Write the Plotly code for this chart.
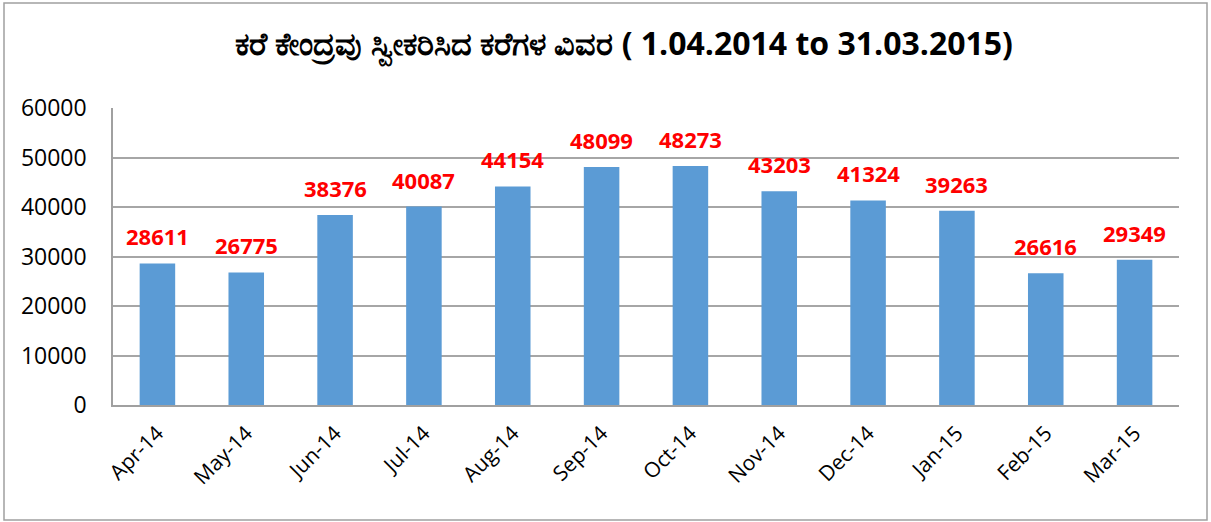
import plotly.graph_objects as go

months = ["Apr-14", "May-14", "Jun-14", "Jul-14", "Aug-14", "Sep-14",
          "Oct-14", "Nov-14", "Dec-14", "Jan-15", "Feb-15", "Mar-15"]
calls = [28611, 26775, 38376, 40087, 44154, 48099,
         48273, 43203, 41324, 39263, 26616, 29349]
y_ticks = [0, 10000, 20000, 30000, 40000, 50000, 60000]
title_text = "ಕರೆ ಕೇಂದ್ರವು ಸ್ವೀಕರಿಸಿದ ಕರೆಗಳ ವಿವರ ( 1.04.2014 to 31.03.2015)"

W, H = 1211, 522
L, R, T, B = 113, 1179, 108, 405
pw, ph = R - L, B - T

fig = go.Figure()
fig.add_trace(go.Bar(x=months, y=calls, width=0.4,
                     marker=dict(color="#5b9bd5", line=dict(width=0))))

for m, v in zip(months, calls):
    fig.add_annotation(x=m, y=v, text="<b>%d</b>" % v, showarrow=False,
                       yanchor="middle", yshift=27,
                       font=dict(family="Open Sans", size=22, color="#ff0000"))

fig.update_layout(
    width=W, height=H,
    margin=dict(l=L, r=W - R, t=T, b=H - B, autoexpand=False),
    paper_bgcolor="white", plot_bgcolor="white",
    showlegend=False,
    title=dict(text="<b>" + title_text + "</b>", x=624 / W, xanchor="center",
               y=1 - 44 / H, yanchor="middle",
               font=dict(family="Open Sans, Noto Sans", size=32, color="black")),
    shapes=[dict(type="rect", xref="paper", yref="paper",
                 x0=(4 - L) / pw, x1=(1207 - L) / pw,
                 y0=-(520 - B) / ph, y1=1 + (T - 3) / ph,
                 line=dict(color="#a0a0a0", width=1.5), fillcolor="rgba(0,0,0,0)")],
)
fig.update_xaxes(showgrid=False, showline=True, linecolor="#a0a0a0", linewidth=1.5,
                 tickangle=-45, ticks="", automargin=False, ticklabelstandoff=6,
                 tickfont=dict(family="Open Sans", size=21, color="black"))
fig.update_yaxes(range=[0, 60000], tickvals=y_ticks, tickformat="d", showgrid=True,
                 gridcolor="#a6a6a6", gridwidth=1.5, showline=True,
                 linecolor="#a0a0a0", linewidth=1.5, zeroline=False,
                 ticks="", ticklabelstandoff=20, automargin=False,
                 tickfont=dict(family="Open Sans", size=23, color="black"))

fig.write_html("out.html", config={"displayModeBar": False},
               post_script="document.body.style.margin='0';")
